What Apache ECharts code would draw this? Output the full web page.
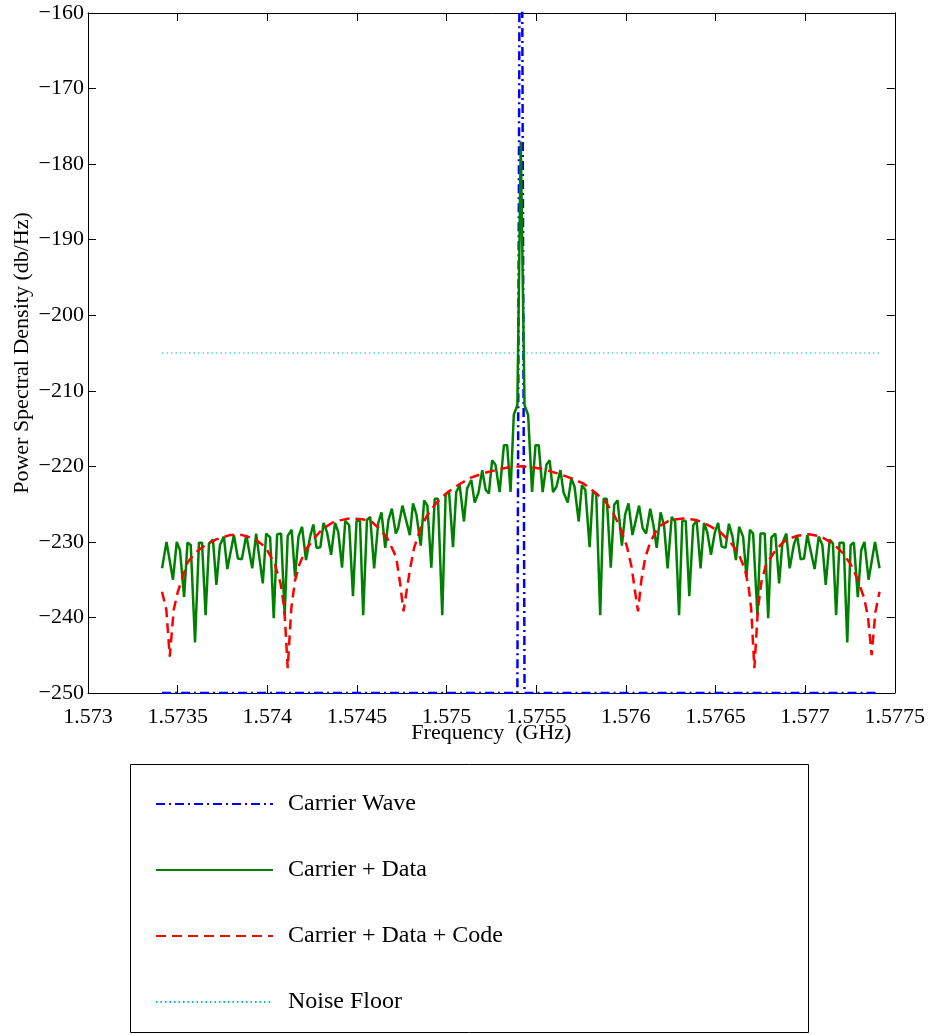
<!DOCTYPE html>
<html><head><meta charset="utf-8">
<script src="https://cdn.jsdelivr.net/npm/echarts@6/dist/echarts.min.js"></script>
<style>html,body{margin:0;padding:0;background:#fff}#c{width:928px;height:1035px}</style>
</head><body><div id="c"></div>
<script>
// ---- data (frequency in GHz, PSD in dB/Hz) ----
const seriesNames = ['Carrier Wave', 'Carrier + Data', 'Carrier + Data + Code', 'Noise Floor'];

const carrierFreq = [1.573413, 1.575395, 1.575414, 1.575435, 1.577415];
const carrierPsd  = [-250, -250, -100, -250, -250];

const dataFreq = [1.573413,1.573438,1.573474,1.573495,1.573513,1.573536,1.573555,1.573573,1.573597,1.573619,
1.573636,1.573656,1.573675,1.573697,1.573716,1.573736,1.573758,1.573777,1.573814,1.573836,
1.573858,1.573883,1.573916,1.573938,1.573975,1.573994,1.574016,1.574036,1.574055,1.574077,
1.574097,1.574114,1.574136,1.574155,1.574174,1.574194,1.574216,1.574239,1.574257,1.574275,
1.574296,1.574314,1.574333,1.574356,1.574378,1.574396,1.574417,1.574435,1.574457,1.574478,
1.574498,1.574517,1.574535,1.574556,1.574574,1.574596,1.574619,1.574637,1.574658,1.574676,
1.574695,1.574717,1.574730,1.574754,1.574795,1.574813,1.574832,1.574856,1.574875,1.574893,
1.574915,1.574934,1.574952,1.574976,1.574995,1.575014,1.575036,1.575054,1.575073,1.575097,
1.575115,1.575138,1.575157,1.575178,1.575199,1.575218,1.575236,1.575254,1.575273,1.575296,
1.575320,1.575338,1.575357,1.575375,1.575395,1.575414,1.575435,1.575455,1.575477,1.575496,
1.575514,1.575536,1.575557,1.575575,1.575594,1.575613,1.575635,1.575653,1.575676,1.575696,
1.575714,1.575737,1.575755,1.575774,1.575798,1.575816,1.575835,1.575857,1.575876,1.575894,
1.575916,1.575935,1.575954,1.575978,1.575996,1.576015,1.576037,1.576074,1.576094,1.576113,
1.576136,1.576154,1.576172,1.576194,1.576213,1.576233,1.576256,1.576275,1.576297,1.576315,
1.576334,1.576354,1.576376,1.576395,1.576417,1.576436,1.576454,1.576475,1.576497,1.576515,
1.576534,1.576556,1.576575,1.576595,1.576614,1.576632,1.576654,1.576673,1.576692,1.576710,
1.576734,1.576751,1.576775,1.576794,1.576812,1.576834,1.576855,1.576873,1.576895,1.576914,
1.576937,1.576955,1.576975,1.576994,1.577012,1.577053,1.577076,1.577096,1.577115,1.577137,
1.577155,1.577173,1.577192,1.577215,1.577235,1.577254,1.577272,1.577294,1.577313,1.577331,
1.577354,1.577390,1.577415];
const dataPsd = [-233.5,-230.0,-235.0,-230.0,-231.1,-237.3,-230.1,-230.4,-243.3,-230.1,
-230.1,-239.7,-230.2,-229.7,-235.7,-230.4,-229.3,-233.6,-229.1,-232.2,
-232.3,-229.1,-233.5,-228.9,-235.5,-228.9,-229.4,-240.1,-229.0,-228.9,
-239.7,-229.2,-228.4,-234.6,-229.3,-228.0,-232.4,-229.3,-227.7,-230.8,
-230.7,-227.5,-228.7,-231.7,-227.5,-228.7,-233.4,-227.2,-227.8,-237.2,
-227.2,-227.2,-239.7,-227.1,-226.7,-233.5,-227.5,-226.1,-230.8,-227.1,
-225.6,-228.9,-228.2,-225.2,-229.1,-224.9,-226.4,-230.5,-224.5,-225.2,
-233.4,-224.3,-224.3,-239.7,-223.7,-223.4,-230.7,-223.4,-222.5,-227.3,
-222.9,-221.8,-224.8,-223.5,-220.5,-223.1,-223.6,-219.2,-219.8,-223.4,
-217.2,-217.2,-223.4,-213.2,-211.9,-177.0,-211.9,-213.2,-223.4,-217.2,
-217.2,-223.4,-219.8,-219.2,-223.4,-222.7,-220.5,-223.5,-224.8,-221.6,
-222.7,-227.3,-222.5,-223.1,-230.7,-223.4,-223.7,-239.7,-224.3,-224.3,
-233.4,-225.1,-224.5,-230.5,-226.4,-224.9,-229.1,-225.2,-228.2,-228.9,
-225.6,-227.8,-230.8,-226.1,-227.8,-233.5,-226.7,-227.3,-239.7,-227.2,
-227.2,-237.2,-227.8,-227.2,-233.5,-227.5,-228.7,-231.7,-228.7,-227.5,
-230.6,-230.8,-227.6,-229.3,-232.4,-228.0,-229.3,-234.6,-228.4,-228.9,
-239.7,-228.9,-228.9,-240.1,-229.4,-228.9,-235.5,-230.2,-228.9,-233.5,
-230.4,-229.1,-232.3,-232.2,-229.1,-233.6,-229.3,-230.4,-235.7,-229.7,
-230.2,-239.7,-230.1,-230.1,-243.3,-230.4,-230.1,-237.3,-231.1,-230.0,
-235.0,-230.0,-233.5];

const codeFreq = [1.573413,1.573437,1.573456,1.573478,1.573501,1.573523,1.573556,1.573601,1.573651,1.573712,
1.573790,1.573862,1.573929,1.573990,1.574040,1.574074,1.574095,1.574114,1.574134,1.574154,
1.574179,1.574215,1.574263,1.574307,1.574374,1.574457,1.574530,1.574580,1.574624,1.574669,
1.574719,1.574741,1.574760,1.574777,1.574797,1.574819,1.574855,1.574894,1.574941,1.575002,
1.575069,1.575136,1.575208,1.575292,1.575353,1.575414,1.575475,1.575542,1.575614,1.575698,
1.575765,1.575831,1.575887,1.575934,1.575970,1.576006,1.576032,1.576051,1.576068,1.576087,
1.576109,1.576137,1.576182,1.576248,1.576321,1.576393,1.576460,1.576527,1.576582,1.576627,
1.576663,1.576685,1.576699,1.576717,1.576737,1.576757,1.576782,1.576838,1.576894,1.576955,
1.577024,1.577088,1.577155,1.577211,1.577255,1.577294,1.577330,1.577351,1.577371,1.577392,
1.577415];
const codePsd = [-236.6,-239.0,-245.2,-239.0,-236.6,-235.0,-232.7,-231.4,-230.5,-229.7,
-229.1,-229.1,-229.6,-230.7,-232.8,-235.5,-238.8,-246.7,-238.8,-235.2,
-233.0,-231.0,-229.5,-228.3,-227.3,-226.9,-227.0,-227.3,-228.2,-229.5,
-232.0,-235.5,-239.2,-236.5,-233.5,-230.8,-228.2,-226.4,-224.9,-223.5,
-222.4,-221.5,-220.9,-220.4,-220.1,-220.0,-220.1,-220.4,-220.9,-221.6,
-222.3,-223.5,-224.7,-226.4,-228.2,-230.6,-233.3,-236.5,-239.2,-235.0,
-232.0,-230.0,-228.0,-227.1,-226.9,-227.1,-227.8,-228.7,-230.0,-231.5,
-233.5,-236.0,-238.8,-246.7,-238.8,-235.2,-233.0,-231.0,-229.7,-229.2,
-229.0,-229.3,-230.2,-231.5,-233.0,-235.0,-237.5,-240.0,-245.0,-239.3,
-236.6];

const noiseFreq = [1.573413, 1.577415];
const noisePsd  = [-205, -205];

const xTickLabels = ['1.573','1.5735','1.574','1.5745','1.575','1.5755','1.576','1.5765','1.577','1.5775'];
const yTickLabels = ['\u2212250','\u2212240','\u2212230','\u2212220','\u2212210','\u2212200','\u2212190','\u2212180','\u2212170','\u2212160'];

// ---- chart ----
const pairs = (f, p) => f.map((v, i) => [v, p[i]]);
const FONT = "'Liberation Serif','Times New Roman',serif";
const axisCommon = {
  type: 'value',
  axisLine: { show: true, onZero: false, lineStyle: { color: '#000', width: 1 } },
  axisTick: { show: true, inside: true, length: 8, lineStyle: { color: '#000', width: 1 } },
  splitLine: { show: false }
};
const chart = echarts.init(document.getElementById('c'), null, { renderer: 'canvas' });
chart.setOption({
  animation: false,
  backgroundColor: '#fff',
  grid: { left: 88, right: 31, top: 13, bottom: 342, containLabel: false },
  xAxis: [
    Object.assign({}, axisCommon, {
      min: 1.573, max: 1.5775, interval: 0.0005, position: 'bottom',
      axisLabel: { show: true, color: '#000', fontFamily: FONT, fontSize: 22, margin: 13,
        showMinLabel: true, showMaxLabel: true,
        formatter: (v, i) => xTickLabels[i] },
      name: 'Frequency  (GHz)', nameLocation: 'middle', nameGap: 29, nameMoveOverlap: false,
      nameTextStyle: { color: '#000', fontFamily: FONT, fontSize: 22 }
    }),
    Object.assign({}, axisCommon, {
      min: 1.573, max: 1.5775, interval: 0.0005, position: 'top',
      axisLabel: { show: false }
    })
  ],
  yAxis: [
    Object.assign({}, axisCommon, {
      min: -250, max: -160, interval: 10, position: 'left',
      axisLabel: { show: true, color: '#000', fontFamily: FONT, fontSize: 22, margin: 4,
        showMinLabel: true, showMaxLabel: true,
        formatter: (v, i) => yTickLabels[i] },
      name: 'Power Spectral Density (db/Hz)', nameLocation: 'middle', nameGap: 55, nameMoveOverlap: false,
      nameTextStyle: { color: '#000', fontFamily: FONT, fontSize: 22 }
    }),
    Object.assign({}, axisCommon, {
      min: -250, max: -160, interval: 10, position: 'right',
      axisLabel: { show: false }
    })
  ],
  legend: {
    orient: 'vertical', left: 150, top: 787,
    itemWidth: 117, itemHeight: 22, itemGap: 42,
    data: seriesNames,
    itemStyle: { opacity: 0 },
    textStyle: { color: '#000', fontFamily: FONT, fontSize: 24, padding: [0, 0, 0, 10] }
  },
  graphic: [{
    type: 'rect', silent: true,
    shape: { x: 130.5, y: 764.5, width: 678, height: 268 },
    style: { fill: 'none', stroke: '#000', lineWidth: 1 }
  }],
  series: [
    { name: seriesNames[0], type: 'line', symbol: 'none', data: pairs(carrierFreq, carrierPsd),
      lineStyle: { color: '#0000ff', width: 2.5, type: [9, 4, 2, 4] }, itemStyle: { color: '#0000ff' } },
    { name: seriesNames[1], type: 'line', symbol: 'none', data: pairs(dataFreq, dataPsd),
      lineStyle: { color: '#008000', width: 2.5, type: 'solid' }, itemStyle: { color: '#008000' } },
    { name: seriesNames[2], type: 'line', symbol: 'none', data: pairs(codeFreq, codePsd),
      lineStyle: { color: '#ff0000', width: 2.5, type: [10, 6] }, itemStyle: { color: '#ff0000' } },
    { name: seriesNames[3], type: 'line', symbol: 'none', data: pairs(noiseFreq, noisePsd),
      lineStyle: { color: '#00bfbf', width: 1, type: [1.5, 3] }, itemStyle: { color: '#00bfbf' } }
  ]
});
</script></body></html>
